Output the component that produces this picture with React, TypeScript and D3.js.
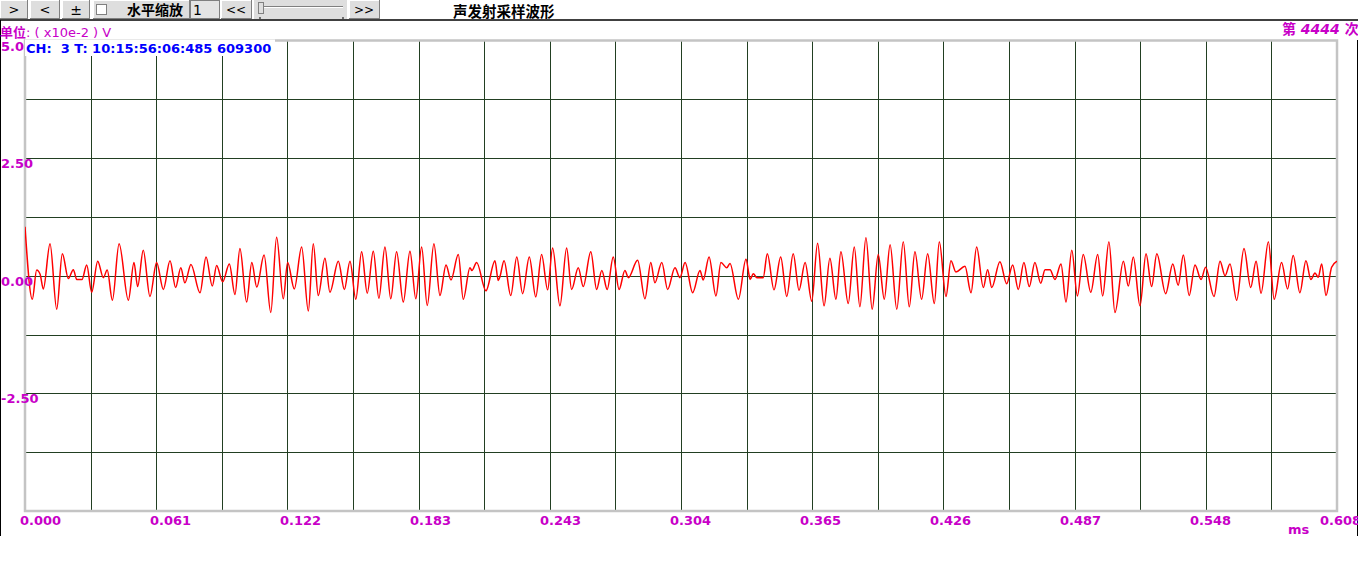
import React from "react";
import * as d3 from "d3";

// ---- data (time in microseconds, amplitude in x10e-2 V) ----
const sampleTimesUs = [
  0, 3.4, 5.4, 7.0, 8.5, 11.6, 14.7, 17.3, 20.1, 22.4, 24.0, 26.4, 28.6, 30.9, 33.7, 36.3, 38.1, 40.5, 43.6, 47.9,
  50.5, 52.2, 54.8, 57.9, 61.0, 64.1, 67.2, 69.8, 72.2, 74.1, 76.9, 81.1, 83.9, 86.8, 88.8, 91.6, 94.7, 97.3, 99.6, 102.7,
  105.1, 107.4, 110.8, 113.9, 116.6, 119.7, 121.7, 124.8, 128.2, 131.3, 133.6, 135.9, 139.0, 141.3, 145.2, 148.0, 150.6, 153.3, 156.0, 158.6,
  161.4, 164.0, 166.8, 169.5, 172.2, 175.3, 178.4, 181.1, 183.8, 186.4, 189.5, 192.3, 195.1, 197.4, 200.8, 203.1, 206.2, 207.1, 209.3, 213.6,
  217.8, 219.3, 220.1, 222.0, 225.1, 227.9, 230.6, 233.7, 236.7, 239.4, 242.2, 244.5, 247.9, 251.0, 253.3, 256.4, 258.7, 262.2, 264.9, 267.3,
  269.8, 272.6, 275.3, 278.0, 279.6, 283.9, 287.3, 290.0, 291.9, 295.1, 297.8, 301.2, 303.5, 305.9, 309.4, 312.8, 314.3, 317.0, 320.2, 322.5,
  325.2, 326.7, 330.6, 334.1, 335.6, 336.0, 337.5, 339.2, 342.1, 344.0, 347.1, 350.2, 353.0, 356.0, 358.7, 361.5, 364.6, 367.3, 370.3, 373.0,
  375.8, 378.1, 381.5, 384.3, 386.9, 389.7, 392.6, 395.4, 398.2, 400.9, 404.0, 407.0, 409.8, 412.4, 415.5, 418.3, 421.4, 423.7, 426.8, 429.1,
  431.4, 435.6, 438.4, 441.0, 444.1, 446.1, 448.0, 451.8, 454.9, 457.7, 460.3, 462.9, 465.4, 468.0, 470.7, 472.7, 475.0, 477.3, 480.1, 482.4,
  485.1, 487.7, 490.4, 493.9, 497.1, 499.4, 502.3, 505.1, 509.0, 511.3, 513.6, 516.7, 519.5, 522.1, 524.5, 528.6, 531.9, 534.4, 536.8, 539.5,
  542.2, 545.0, 547.1, 551.0, 553.8, 556.1, 558.4, 561.5, 564.9, 568.0, 570.5, 572.8, 576.2, 578.9, 582.3, 585.1, 587.7, 590.8, 593.6, 595.9,
  597.8, 599.3, 600.9, 602.9, 605.5, 608.0,
];
const sampleValues = [
  1.04, -0.5, 0.12, 0.03, -0.28, 0.68, -0.71, 0.47, -0.06, 0.13, -0.08, -0.08, 0.23, -0.35, 0.31, -0.04, 0.12, -0.52, 0.68, -0.52,
  0.28, -0.23, 0.54, -0.44, 0.28, -0.29, 0.32, -0.25, 0.17, -0.15, 0.24, -0.36, 0.4, -0.22, 0.22, -0.13, 0.25, -0.4, 0.58, -0.56,
  0.28, -0.24, 0.44, -0.78, 0.82, -0.49, 0.28, -0.28, 0.61, -0.75, 0.68, -0.42, 0.37, -0.35, 0.31, -0.29, 0.31, -0.5, 0.51, -0.37,
  0.52, -0.48, 0.61, -0.49, 0.51, -0.56, 0.52, -0.49, 0.61, -0.63, 0.68, -0.42, 0.23, -0.09, 0.45, -0.5, 0.17, 0.11, 0.28, -0.32,
  0.32, -0.1, -0.02, 0.32, -0.42, 0.4, -0.38, 0.4, -0.45, 0.45, -0.3, 0.59, -0.64, 0.59, -0.29, 0.17, -0.23, 0.51, -0.29, 0.11,
  -0.29, 0.4, -0.29, 0.11, -0.04, 0.33, -0.49, 0.28, -0.15, 0.28, -0.29, 0.17, -0.04, 0.28, -0.36, 0.11, -0.09, 0.4, -0.43, 0.28,
  0.17, 0.26, -0.5, 0.35, 0.0, -0.08, 0.04, -0.04, -0.04, 0.47, -0.3, 0.4, -0.44, 0.47, -0.31, 0.28, -0.54, 0.69, -0.64, 0.37,
  -0.5, 0.51, -0.59, 0.61, -0.66, 0.81, -0.71, 0.45, -0.5, 0.66, -0.71, 0.72, -0.66, 0.51, -0.5, 0.47, -0.59, 0.72, -0.44, 0.32,
  0.08, 0.2, -0.36, 0.61, -0.25, 0.13, -0.25, 0.3, -0.17, 0.23, -0.29, 0.28, -0.23, 0.28, -0.16, 0.13, 0.13, -0.08, 0.25, -0.56,
  0.54, -0.43, 0.45, -0.35, 0.45, -0.43, 0.72, -0.78, 0.31, -0.22, 0.4, -0.64, 0.47, -0.23, 0.47, -0.38, 0.25, -0.2, 0.44, -0.42,
  0.23, -0.08, 0.18, -0.44, 0.31, 0.0, 0.25, -0.52, 0.58, -0.25, 0.31, -0.37, 0.72, -0.5, 0.28, -0.28, 0.43, -0.36, 0.32, -0.08,
  0.06, -0.03, 0.25, -0.42, 0.18, 0.31,
];
const xTickLabels = ["0.000", "0.061", "0.122", "0.183", "0.243", "0.304", "0.365", "0.426", "0.487", "0.548", "0.608"];
const yTickValues = [5.0, 2.5, 0, -2.5];
const yTickLabels = ["5.0", "2.50", "0.00", "-2.50"];
const titleText = "声发射采样波形";
const unitPrefix = "单位";
const unitSuffix = ": ( x10e-2 ) V";
const channelText = "CH:  3 T: 10:15:56:06:485 609300";
const countWord1 = "第";
const countNumber = "4444";
const countWord2 = "次";
const xUnitText = "ms";

const W = 1358;
const H = 577;
const left = 25;
const right = 1337;
const top = 40.5;
const bottom = 511;
const MAG = "#c800c8";
const GRID = "#223f22";
const FONT = "'DejaVu Sans', Verdana, sans-serif";
const CJK = "'Noto Sans CJK SC', sans-serif";

function Button({ x, w, children }: { x: number; w: number; children?: React.ReactNode }) {
  return (
    <g>
      <rect x={x} y={0} width={w} height={19} fill="#dedede" />
      <line x1={x} y1={0.5} x2={x + w} y2={0.5} stroke="#ffffff" />
      <line x1={x + 0.5} y1={0} x2={x + 0.5} y2={19} stroke="#ffffff" />
      <line x1={x} y1={18.5} x2={x + w} y2={18.5} stroke="#808080" />
      <line x1={x + w - 0.5} y1={0} x2={x + w - 0.5} y2={19} stroke="#808080" />
      {children}
    </g>
  );
}

export default function App() {
  const x = d3.scaleLinear().domain([0, 608]).range([left, right]);
  const y = d3.scaleLinear().domain([-5, 5]).range([bottom, top]);
  const labelX = d3.scaleLinear().domain([0, xTickLabels.length - 1]).range([20, 1320]);
  const vGrid = d3.range(1, 20).map((i) => (i * 608) / 20);
  const hGrid = d3.range(1, 8).map((j) => -5 + j * 1.25);
  const pts: [number, number][] = sampleTimesUs.map((t, i) => [t, sampleValues[i]]);
  const line = d3
    .line<[number, number]>()
    .x((d) => x(d[0]))
    .y((d) => y(d[1]))
    .curve(d3.curveMonotoneX);

  return (
    <svg width={W} height={H} style={{ position: "fixed", left: 0, top: 0, background: "#ffffff" }}>
      <defs>
        <clipPath id="plotclip">
          <rect x={left} y={top} width={right - left} height={bottom - top} />
        </clipPath>
      </defs>
      <rect x={0} y={0} width={W} height={H} fill="#ffffff" />

      {/* toolbar */}
      <Button x={0} w={28}>
        <text x={14} y={14} textAnchor="middle" fontFamily={FONT} fontSize={13}>{">"}</text>
      </Button>
      <Button x={30} w={30}>
        <text x={45} y={14} textAnchor="middle" fontFamily={FONT} fontSize={13}>{"<"}</text>
      </Button>
      <Button x={62} w={28}>
        <text x={76} y={15} textAnchor="middle" fontFamily={FONT} fontSize={14}>±</text>
      </Button>
      <Button x={93} w={97}>
        <rect x={96.5} y={4.5} width={10} height={10} fill="#fff" stroke="#808080" />
        <text x={127} y={15} fontFamily={CJK} fontSize={14} fontWeight="bold">水平缩放</text>
      </Button>
      <rect x={190.5} y={0.5} width={29} height={18} fill="#e4e4e4" stroke="#808080" />
      <text x={193} y={15} fontFamily={FONT} fontSize={14}>1</text>
      <Button x={221} w={31}>
        <text x={236} y={14} textAnchor="middle" fontFamily={FONT} fontSize={12}>{"<<"}</text>
      </Button>
      <rect x={254} y={0} width={93} height={19} fill="#dedede" />
      <line x1={260} y1={6.5} x2={343} y2={6.5} stroke="#808080" />
      <line x1={260} y1={7.5} x2={343} y2={7.5} stroke="#ffffff" />
      <rect x={258.5} y={2.5} width={5} height={11} fill="#dedede" stroke="#808080" />
      <line x1={260} y1={17} x2={260} y2={19} stroke="#000" />
      <line x1={343} y1={17} x2={343} y2={19} stroke="#000" />
      <Button x={349} w={31}>
        <text x={364} y={14} textAnchor="middle" fontFamily={FONT} fontSize={12}>{">>"}</text>
      </Button>
      <text x={453} y={17} fontFamily={CJK} fontSize={14.5} fontWeight="bold" fill="#000">{titleText}</text>
      <line x1={0} y1={20} x2={W} y2={20} stroke="#000" strokeWidth={1.5} />

      {/* frame side lines */}
      <line x1={0.5} y1={20} x2={0.5} y2={536} stroke="#000" />
      <line x1={1357.5} y1={40} x2={1357.5} y2={536} stroke="#000" />

      {/* grid */}
      {vGrid.map((t, i) => (
        <line key={"v" + i} x1={Math.round(x(t)) + 0.5} x2={Math.round(x(t)) + 0.5} y1={top} y2={bottom} stroke={GRID} />
      ))}
      {hGrid.map((v, i) => (
        <line key={"h" + i} x1={left} x2={right} y1={Math.round(y(v)) + 0.5} y2={Math.round(y(v)) + 0.5} stroke={GRID} />
      ))}
      <rect x={left} y={top} width={right - left} height={bottom - top} fill="none" stroke="#c4c4c4" strokeWidth={2.5} />

      {/* waveform */}
      <path d={line(pts) || ""} fill="none" stroke="#ff0000" strokeWidth={1.5} clipPath="url(#plotclip)" />

      {/* channel label box */}
      <rect x={left} y={top - 1} width={250} height={16.5} fill="#ffffff" />
      <text x={26} y={53} fontFamily={FONT} fontSize={13} fontWeight="bold" fill="#0000ff" xmlSpace="preserve">{channelText}</text>

      {/* unit label */}
      <text x={0} y={37} fill={MAG} fontSize={13} xmlSpace="preserve">
        <tspan fontFamily={CJK} fontWeight="bold">{unitPrefix}</tspan>
        <tspan fontFamily={FONT}>{unitSuffix}</tspan>
      </text>
      <text x={1282} y={34} fill={MAG} fontSize={14} fontWeight="bold" xmlSpace="preserve">
        <tspan fontFamily={CJK}>{countWord1}</tspan>
        <tspan fontFamily={FONT} fontStyle="italic">{" " + countNumber + " "}</tspan>
        <tspan fontFamily={CJK}>{countWord2}</tspan>
      </text>

      {/* y labels */}
      {yTickValues.map((v, i) => (
        <text key={"yl" + i} x={1} y={Math.round(y(v)) + 10} fontFamily={FONT} fontSize={13} fontWeight="bold" fill={MAG}>
          {yTickLabels[i]}
        </text>
      ))}

      {/* x labels */}
      {xTickLabels.map((s, i) => (
        <text key={"xl" + i} x={labelX(i)} y={525} fontFamily={FONT} fontSize={13} fontWeight="bold" fill={MAG}>
          {s}
        </text>
      ))}
      <text x={1288} y={534} fontFamily={FONT} fontSize={13} fontWeight="bold" fill={MAG}>{xUnitText}</text>
    </svg>
  );
}
